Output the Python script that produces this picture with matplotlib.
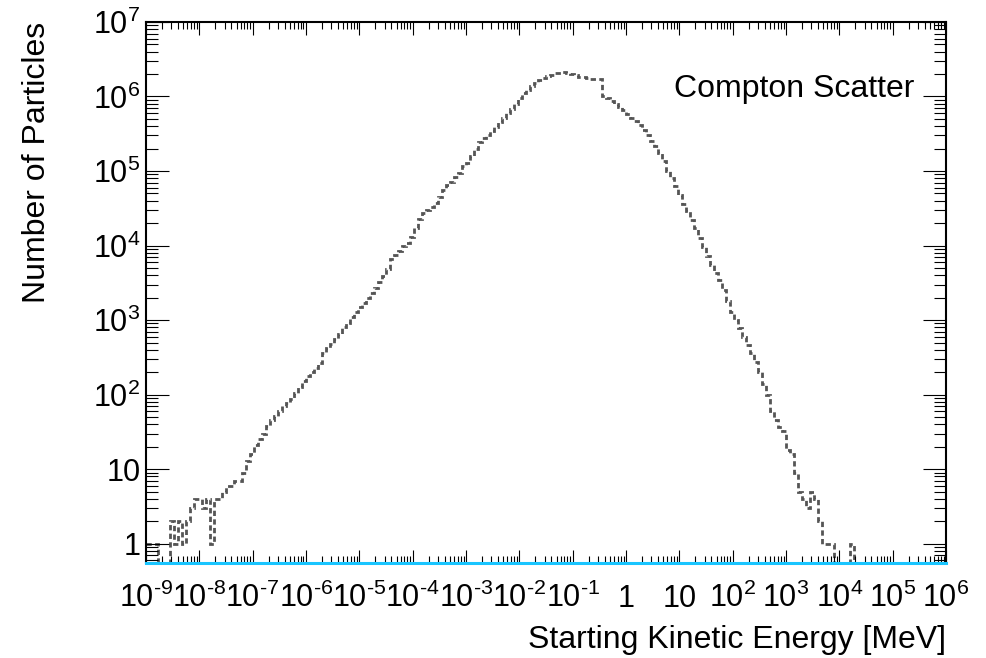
import numpy as np
import matplotlib
matplotlib.use("Agg")
import matplotlib.pyplot as plt
from matplotlib.ticker import LogLocator, FuncFormatter, NullFormatter

plt.rcParams['font.family'] = ['Liberation Sans', 'DejaVu Sans']
plt.rcParams['mathtext.default'] = 'regular'

# histogram binning: 200 log bins between 1e-9 and 1e6 MeV
e_min_exp = -9
e_max_exp = 6
n_bins = 200

# counts per bin (left to right)
counts = [
    1, 1, 1, 0, 0, 0, 2, 1, 2, 1,
    2, 3, 4, 4, 3, 4, 1, 4, 4, 5,
    6, 6, 7, 7, 9, 13, 16, 21, 25, 30,
    38, 46, 52, 60, 70, 78, 86, 105, 125, 150,
    175, 200, 230, 263, 360, 420, 480, 560, 650, 800,
    920, 1100, 1300, 1480, 1700, 1950, 2300, 2700, 3200, 3900,
    4900, 6500, 7500, 8500, 10000, 10700, 13000, 17000, 23000, 27500,
    30000, 33000, 37000, 45000, 55000, 65000, 72000, 82000, 95000, 115000,
    130000, 160000, 200000, 245000, 275000, 300000, 340000, 390000, 450000, 520000,
    600000, 680000, 800000, 950000, 1100000, 1230000, 1380000, 1520000, 1660000, 1780000,
    1880000, 1960000, 2040000, 2090000, 2100000, 2060000, 2000000, 1920000, 1850000, 1800000,
    1750000, 1730000, 1720000, 1700000, 1000000, 950000, 880000, 800000, 730000, 660000,
    590000, 520000, 470000, 420000, 360000, 300000, 250000, 215000, 175000, 135000,
    100000, 80000, 62000, 48000, 36000, 29000, 22000, 17000, 12500, 9500,
    7200, 5500, 4300, 3400, 2500, 1800, 1300, 1000, 780, 600,
    460, 360, 270, 200, 140, 100, 60, 45, 37, 32,
    18, 16, 9, 5, 4, 3, 5, 4, 2, 1,
    1, 1, 0, 0, 0, 0, 1, 0, 0, 0,
    0, 0, 0, 0, 0, 0, 0, 0, 0, 0,
    0, 0, 0, 0, 0, 0, 0, 0, 0, 0,
]

title_text = "Compton Scatter"
x_title = "Starting Kinetic Energy [MeV]"
y_title = "Number of Particles"


def log_label(v, pos):
    if v <= 0:
        return ""
    n = int(round(np.log10(v)))
    if n == 0:
        return "1"
    if n == 1:
        return "10"
    if n < 0:
        # short hyphen like the original, not a wide minus sign
        return "$10^{\u2010%d}$" % abs(n)
    return "$10^{%d}$" % n


def main():
    edges = np.logspace(e_min_exp, e_max_exp, n_bins + 1)
    vals = np.array(counts, dtype=float)
    vals = np.where(vals > 0, vals, 1e-3)  # empty bins fall below the axis

    fig = plt.figure(figsize=(9.86, 6.58), dpi=100)
    ax = fig.add_axes([0.148, 0.1444, 0.8114, 0.8222])

    ax.stairs(vals, edges, color='#555555', linewidth=2.0,
              linestyle=(0, (1.9, 1.2)), baseline=None)

    ax.set_xscale('log')
    ax.set_yscale('log')
    ax.set_xlim(10.0 ** e_min_exp, 10.0 ** e_max_exp)
    ax.set_ylim(0.55, 1e7)

    for a in (ax.xaxis, ax.yaxis):
        a.set_major_locator(LogLocator(base=10, numticks=100))
        a.set_minor_locator(LogLocator(base=10, subs=np.arange(2, 10), numticks=100))
        a.set_major_formatter(FuncFormatter(log_label))
        a.set_minor_formatter(NullFormatter())

    ax.tick_params(which='both', direction='in', top=True, right=True,
                   width=0.8, colors='black', labelsize=22)
    ax.tick_params(axis='x', which='major', length=9.5, pad=32)
    ax.tick_params(axis='x', which='minor', length=4.7)
    ax.tick_params(axis='y', which='major', length=16.5, pad=4)
    ax.tick_params(axis='y', which='minor', length=8.6)
    for lab in ax.get_xticklabels():
        lab.set_verticalalignment('baseline')

    for s in ax.spines.values():
        s.set_linewidth(1.5)
    ax.spines['bottom'].set_color('#19c5ff')
    ax.spines['bottom'].set_linewidth(2.2)

    ax.set_xlabel(x_title, fontsize=23, loc='right')
    ax.xaxis.set_label_coords(1.0, -0.115)
    ax.set_ylabel(y_title, fontsize=23, loc='top')
    ax.yaxis.set_label_coords(-0.118, 1.0)

    ax.text(0.961, 0.861, title_text, transform=ax.transAxes,
            ha='right', va='baseline', fontsize=23)

    fig.savefig('out.png', dpi=100)


if __name__ == "__main__":
    main()
